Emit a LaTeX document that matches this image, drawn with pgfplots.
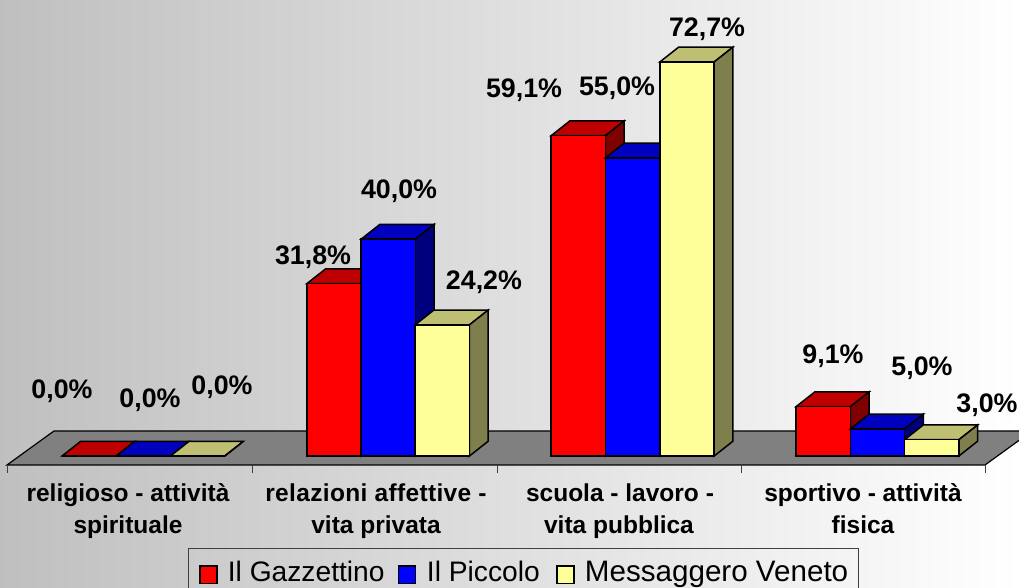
\documentclass[border=0pt]{standalone}
\usepackage{fontspec}
\setmainfont{Liberation Sans}
\usepackage{pgfplots}
\usepackage{pgfplotstable}
\pgfplotsset{compat=1.18}
\definecolor{redF}{HTML}{FF0000}\definecolor{redT}{HTML}{BF0000}\definecolor{redS}{HTML}{7F0000}
\definecolor{bluF}{HTML}{0000FF}\definecolor{bluT}{HTML}{0000BF}\definecolor{bluS}{HTML}{00007F}
\definecolor{yelF}{HTML}{FFFF99}\definecolor{yelT}{HTML}{BFBF73}\definecolor{yelS}{HTML}{7F7F4D}
\pgfplotstableread{
x v
89.2 0.0
334.0 31.8
578.3 59.1
823.2 9.1
}\gazzettino
\pgfplotstableread{
x v
143.4 0.0
388.2 40.0
632.6 55.0
877.5 5.0
}\piccolo
\pgfplotstableread{
x v
197.6 0.0
442.3 24.2
687.0 72.7
931.7 3.0
}\messaggero
% top and side face of one bar: centre x, value, top colour, side colour
\newcommand\depthfaces[4]{%
  \pgfmathsetmacro\xa{#1-27.15}\pgfmathsetmacro\xb{#1+27.15}%
  \pgfmathsetmacro\xc{\xa+18.7}\pgfmathsetmacro\xd{\xb+18.7}%
  \pgfmathsetmacro\yt{#2+2.72}\pgfmathsetmacro\yb{2.72}%
  \addplot[forget plot,fill=#3,draw=black,line width=1.5pt,line join=miter]
    coordinates {(\xa,#2)(\xc,\yt)(\xd,\yt)(\xb,#2)} -- cycle;
  \addplot[forget plot,fill=#4,draw=black,line width=1.5pt,line join=miter]
    coordinates {(\xb,#2)(\xd,\yt)(\xd,\yb)(\xb,0)} -- cycle;
}
\newcommand\px[2]{(rel axis cs:#1/1019,1-#2/588)}
\newcommand\val[3]{\node[font=\fontsize{26.8}{30}\selectfont\bfseries,text=black,inner sep=0pt] at \px{#1}{#2} {#3};}
\newcommand\catline[3]{\node[font=\fontsize{24.5}{33}\selectfont\bfseries,text=black,inner sep=0pt,anchor=base] at \px{#1}{#2} {#3};}
\newcommand\ticky[1]{\draw[black!75,line width=0.9pt] \px{#1}{465} -- \px{#1}{473};}
\begin{document}
\begin{tikzpicture}
\path[use as bounding box] (0,0) rectangle (1019pt,588pt);
\begin{axis}[
  at={(0,0)},anchor=south west,
  scale only axis,width=1019pt,height=588pt,
  xmin=0,xmax=1019,ymin=-24.354,ymax=84.133,
  hide axis,
  legend columns=3,
  legend style={at={(rel axis cs:188.5/1019,1-548.5/588)},anchor=north west,
    draw=black!75,line width=0.9pt,fill=none,inner xsep=10.2pt,inner ysep=12.6pt,
    font=\fontsize{29.6}{32}\selectfont,
    nodes={inner sep=0pt},
    /tikz/column 1/.style={column sep=10.2pt},
    /tikz/column 2/.style={column sep=13pt},
    /tikz/column 3/.style={column sep=10.9pt},
    /tikz/column 4/.style={column sep=16.6pt},
    /tikz/column 5/.style={column sep=10.0pt},
    },
  legend cell align=left,
  legend image code/.code={\draw[#1,line width=1.5pt] (0pt,-10.8pt) rectangle (17pt,6.5pt);},
]
\shade[left color=black!25,right color=white,draw=none] (rel axis cs:0,0) rectangle (rel axis cs:1,1);
% floor
\fill[fill=black!50,draw=black,line width=1.2pt] \px{7}{465} -- \px{54}{431} -- \px{1032}{431} -- \px{985}{465} -- cycle;
\ticky{7}\ticky{252}\ticky{497}\ticky{741}\ticky{985}
% Il Gazzettino
\depthfaces{89.2}{0.0}{redT}{redS}
\depthfaces{334.0}{31.8}{redT}{redS}
\depthfaces{578.3}{59.1}{redT}{redS}
\depthfaces{823.2}{9.1}{redT}{redS}
\addplot[ybar,bar width=54.3,bar shift=0pt,fill=redF,draw=black,line width=1.5pt] table[x=x,y=v] {\gazzettino};
\addlegendentry{\fontsize{28.2}{32}\selectfont Il Gazzettino}
% Il Piccolo
\depthfaces{143.4}{0.0}{bluT}{bluS}
\depthfaces{388.2}{40.0}{bluT}{bluS}
\depthfaces{632.6}{55.0}{bluT}{bluS}
\depthfaces{877.5}{5.0}{bluT}{bluS}
\addplot[ybar,bar width=54.3,bar shift=0pt,fill=bluF,draw=black,line width=1.5pt] table[x=x,y=v] {\piccolo};
\addlegendentry{\fontsize{28.2}{32}\selectfont Il Piccolo}
% Messaggero Veneto
\depthfaces{197.6}{0.0}{yelT}{yelS}
\depthfaces{442.3}{24.2}{yelT}{yelS}
\depthfaces{687.0}{72.7}{yelT}{yelS}
\depthfaces{931.7}{3.0}{yelT}{yelS}
\addplot[ybar,bar width=54.3,bar shift=0pt,fill=yelF,draw=black,line width=1.5pt] table[x=x,y=v] {\messaggero};
\addlegendentry{Messaggero Veneto\hspace{3.5pt}}
% value labels
\val{62}{391}{0,0\%}
\val{150}{400}{0,0\%}
\val{222}{387}{0,0\%}
\val{313}{257}{31,8\%}
\val{399}{191}{40,0\%}
\val{484}{282}{24,2\%}
\val{524}{90}{59,1\%}
\val{617}{88}{55,0\%}
\val{707}{29}{72,7\%}
\val{833}{356}{9,1\%}
\val{922}{368}{5,0\%}
\val{987}{405}{3,0\%}
% category labels
\catline{128}{502}{religioso - attività}
\catline{128}{534}{spirituale}
\catline{376}{502}{\addfontfeature{LetterSpace=1.4}relazioni affettive -}
\catline{376}{534}{vita privata}
\catline{620}{502}{scuola - lavoro -}
\catline{619}{534}{vita pubblica}
\catline{863}{502}{sportivo - attività}
\catline{863}{534}{fisica}
\end{axis}
\end{tikzpicture}
\end{document}
